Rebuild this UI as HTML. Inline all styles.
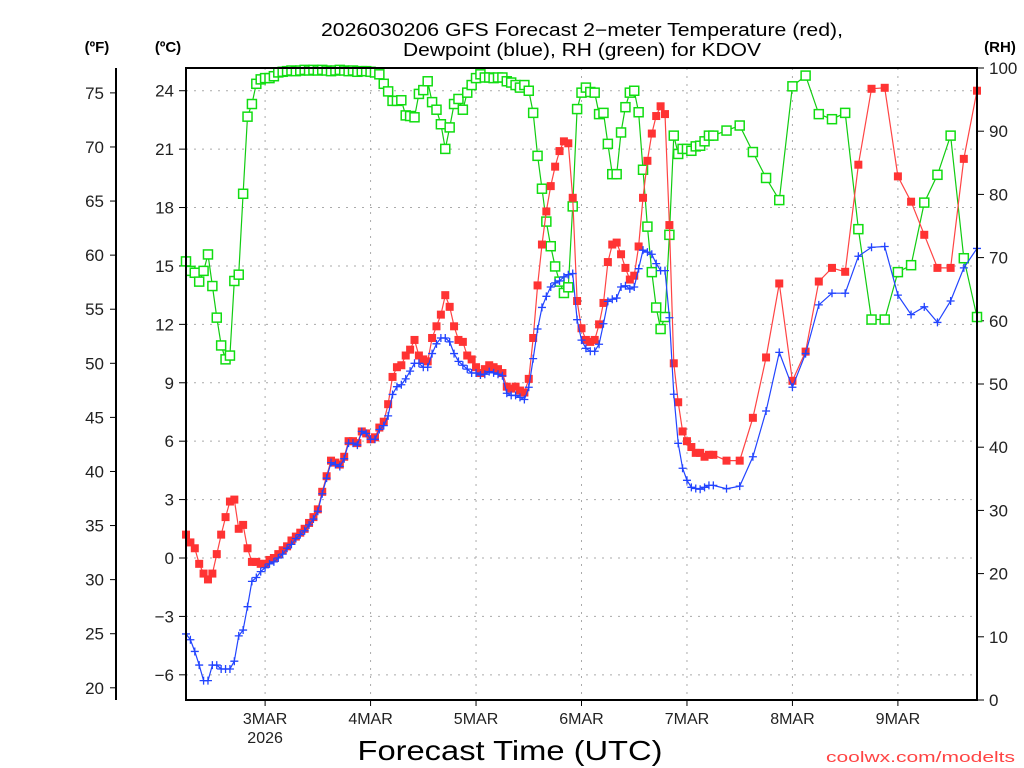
<!DOCTYPE html>
<html><head><meta charset="utf-8"><title>GFS KDOV meteogram</title>
<style>html,body{margin:0;padding:0;background:#fff;}svg{display:block;font-family:"Liberation Sans",sans-serif;}</style>
</head><body>
<svg id="chart" width="1024" height="768" viewBox="0 0 1024 768">
  <text x="582" y="36" text-anchor="middle" font-size="18" textLength="522" lengthAdjust="spacingAndGlyphs">2026030206 GFS Forecast 2−meter Temperature (red),</text>
  <text x="582" y="56" text-anchor="middle" font-size="18" textLength="358" lengthAdjust="spacingAndGlyphs">Dewpoint (blue), RH (green) for KDOV</text>
  <text x="97" y="52" text-anchor="middle" font-size="15" font-weight="bold">(ºF)</text>
  <text x="168" y="52" text-anchor="middle" font-size="15" font-weight="bold">(ºC)</text>
  <text x="1000" y="52" text-anchor="middle" font-size="15" font-weight="bold">(RH)</text>
  <text x="510" y="760" text-anchor="middle" font-size="28" textLength="305" lengthAdjust="spacingAndGlyphs">Forecast Time (UTC)</text>
  <text x="1015" y="762" text-anchor="end" font-size="15" fill="#ff4444" textLength="189" lengthAdjust="spacingAndGlyphs">coolwx.com/modelts</text>
  <g id="grid"></g>
  <g id="axes"></g>
  <g id="series"></g>
  <rect x="186" y="68" width="791" height="632" fill="none" stroke="#000" stroke-width="2"/>
</svg>
<script>
const hours = [];
for (let h = 0; h <= 120; h++) hours.push(h);
for (let h = 123; h <= 180; h += 3) hours.push(h);

const tempC = [1.2,0.8,0.5,-0.3,-0.8,-1.1,-0.8,0.2,1.2,2.1,2.9,3.0,1.5,1.7,0.5,-0.2,-0.2,-0.3,-0.3,
-0.1,0.0,0.2,0.4,0.6,0.9,1.1,1.3,1.5,1.8,2.1,2.5,3.4,4.2,5.0,4.9,4.8,5.2,6.0,6.0,5.9,6.5,6.4,6.1,6.2,6.7,7.0,
7.9,9.3,9.8,9.9,10.4,10.7,11.2,10.4,10.2,10.1,11.3,11.9,12.5,13.5,12.9,11.9,11.2,11.1,10.4,10.2,9.8,
9.5,9.7,9.9,9.8,9.7,9.5,8.8,8.7,8.8,8.6,8.5,9.2,11.3,14.0,16.1,17.8,19.1,20.1,20.9,21.4,21.3,18.5,13.2,11.8,11.2,11.1,11.2,12.0,13.1,15.2,16.1,16.2,15.6,14.9,14.3,14.5,16.0,18.5,20.4,21.8,22.7,23.2,22.8,17.1,10.0,8.0,6.5,6.0,5.7,5.4,5.4,5.2,5.3,5.3,
5.0,5.0,7.2,10.3,14.1,9.1,10.6,14.2,14.9,14.7,20.2,24.1,24.15,19.6,18.3,16.6,14.9,14.9,20.5,24.0];

const dewC = [-3.9,-4.2,-4.8,-5.5,-6.3,-6.3,-5.5,-5.5,-5.7,-5.7,
-5.7,-5.3,-4.0,-3.7,-2.5,-1.2,-1.0,-0.7,-0.5,-0.3,
-0.2,0.0,0.2,0.5,0.7,1.0,1.2,1.4,1.7,2.0,
2.4,3.3,4.1,4.9,4.8,4.7,5.1,5.9,5.9,5.8,
6.5,6.4,6.1,6.1,6.6,6.8,7.3,8.4,8.8,8.9,
9.2,9.6,10.0,10.0,9.8,9.8,10.5,11.0,11.3,11.3,
11.1,10.5,10.1,9.9,9.7,9.5,9.5,
9.4,9.44,9.57,9.51,9.44,9.36,8.46,8.35,8.35,8.25,8.14,8.77,10.24,11.76,12.87,13.44,13.92,14.13,14.23,14.44,14.55,14.61,12.24,11.19,10.77,10.62,10.62,10.98,12.03,13.18,13.29,13.35,13.92,13.98,13.82,13.92,14.86,15.81,15.71,15.6,15.12,14.76,14.76,12.34,8.41,5.89,4.61,3.99,3.63,3.57,3.53,3.63,3.73,3.73,
3.56,3.69,5.2,7.55,10.56,8.77,10.5,13.0,13.6,13.6,15.5,15.96,16.0,13.5,12.5,12.9,12.1,13.2,14.9,15.9];

const rhPct = [69.4,67.9,67.6,66.2,67.9,70.5,65.5,60.5,56.1,53.9,54.5,66.3,67.3,80.1,92.3,94.3,97.5,98.2,98.4,98.4,98.7,99.3,99.4,
99.5,99.6,99.5,99.6,99.7,99.6,99.7,99.6,99.7,99.6,99.5,99.6,99.7,99.6,99.5,99.6,99.4,99.5,99.5,99.4,99.3,99.0,
97.5,96.3,94.8,94.8,94.9,92.5,92.4,92.2,95.9,96.5,97.9,94.6,93.4,91.1,87.2,90.6,94.3,95.1,93.4,96.1,97.3,98.4,
99.0,98.5,98.5,98.4,98.5,98.5,97.9,97.7,97.3,96.9,97.3,96.4,92.9,86.1,80.9,75.7,71.8,68.6,66.2,64.4,65.3,78.1,93.5,96.1,96.9,96.2,96.1,92.7,92.9,88.0,83.2,83.2,89.8,93.8,96.1,96.4,93.0,83.9,74.9,67.7,62.1,58.7,60.6,73.6,89.3,86.4,87.2,87.2,86.9,87.6,87.7,88.4,89.3,89.3,
90.1,90.9,86.7,82.6,79.1,97.1,98.8,92.7,91.9,92.9,74.5,60.2,60.2,67.7,68.8,78.7,83.1,89.3,69.9,60.6];

const celsiusTicks = [-6,-3,0,3,6,9,12,15,18,21,24];
const fahrenheitTicks = [20,25,30,35,40,45,50,55,60,65,70,75];
const rhTicks = [0,10,20,30,40,50,60,70,80,90,100];
const dayLabels = ["3MAR","4MAR","5MAR","6MAR","7MAR","8MAR","9MAR"];
const dayHours = [18,42,66,90,114,138,162];

const NS = "http://www.w3.org/2000/svg";
const L = 186, R = 977, T = 68, B = 700;
const xOf = h => L + h * (R - L) / 180;
const yC = c => 558 - c * 19.47;
const yF = f => yC((f - 32) * 5 / 9);
const yRH = r => B - r * (B - T) / 100;

function mk(tag, attrs, parent) {
  const e = document.createElementNS(NS, tag);
  for (const k in attrs) e.setAttribute(k, attrs[k]);
  parent.appendChild(e);
  return e;
}
const grid = document.getElementById('grid');
const axes = document.getElementById('axes');
const series = document.getElementById('series');

celsiusTicks.forEach(c => {
  const y = yC(c);
  const g = mk('line', {x1: L, x2: R, y1: y, y2: y, stroke: '#aaa', 'stroke-width': 1, 'stroke-dasharray': '2,6'}, grid);
  
  
  const t = mk('line', {x1: L - 7, x2: L, y1: y, y2: y, stroke: '#000', 'stroke-width': 1}, axes);
  
  
  const lb = mk('text', {x: L - 12, y: y + 6, 'text-anchor': 'end', 'font-size': 17, fill: '#222'}, axes);
  lb.textContent = c < 0 ? '\u2212' + Math.abs(c) : String(c);
  
  
});
dayHours.forEach((h, i) => {
  const x = xOf(h);
  const g = mk('line', {x1: x, x2: x, y1: T, y2: B, stroke: '#aaa', 'stroke-width': 1, 'stroke-dasharray': '2,6'}, grid);
  
  
  const t = mk('line', {x1: x, x2: x, y1: B, y2: B + 6, stroke: '#000', 'stroke-width': 1}, axes);
  
  
  const lb = mk('text', {x: x, y: B + 24, 'text-anchor': 'middle', 'font-size': 16, fill: '#222'}, axes);
  lb.textContent = dayLabels[i];
  
  
});
const yr = mk('text', {x: xOf(18), y: B + 43, 'text-anchor': 'middle', 'font-size': 16, fill: '#222'}, axes);
yr.textContent = '2026';



const fl = mk('line', {x1: 116, x2: 116, y1: 68, y2: 700, stroke: '#000', 'stroke-width': 2}, axes);


fahrenheitTicks.forEach(f => {
  const y = yF(f);
  const t = mk('line', {x1: 110, x2: 116, y1: y, y2: y, stroke: '#000', 'stroke-width': 1}, axes);
  
  
  const lb = mk('text', {x: 104, y: y + 6, 'text-anchor': 'end', 'font-size': 17, fill: '#222'}, axes);
  lb.textContent = String(f);
  
  
});
rhTicks.forEach(r => {
  const y = yRH(r);
  const t = mk('line', {x1: R, x2: R + 7, y1: y, y2: y, stroke: '#000', 'stroke-width': 1}, axes);
  
  
  const lb = mk('text', {x: 989, y: y + 6, 'text-anchor': 'start', 'font-size': 17, fill: '#222'}, axes);
  lb.textContent = String(r);
  
  
});

function drawLine(vals, yfn, color, name) {
  const pts = vals.map((v, i) => xOf(hours[i]).toFixed(1) + ',' + yfn(v).toFixed(1)).join(' ');
  const p = mk('polyline', {points: pts, fill: 'none', stroke: color, 'stroke-width': 1.2}, series);
  
  
}
// green RH
drawLine(rhPct, yRH, '#11cc11', 'rh-line');
rhPct.forEach((v, i) => {
  const m = mk('rect', {x: xOf(hours[i]) - 4.5, y: yRH(v) - 4.5, width: 9, height: 9, fill: '#fff', stroke: '#11dd11', 'stroke-width': 1.5}, series);
  
  
});
// red temperature
drawLine(tempC, yC, '#ff4444', 'temperature-line');
tempC.forEach((v, i) => {
  const m = mk('rect', {x: xOf(hours[i]) - 4, y: yC(v) - 4, width: 8, height: 8, fill: '#ff3333'}, series);
  
  
});
// blue dewpoint
drawLine(dewC, yC, '#2244ff', 'dewpoint-line');
dewC.forEach((v, i) => {
  const x = xOf(hours[i]), y = yC(v);
  const m = mk('path', {d: `M${x-4},${y}H${x+4}M${x},${y-4}V${y+4}`, stroke: '#2244ff', 'stroke-width': 1.3, fill: 'none'}, series);
  
  
});
</script>
</body></html>
